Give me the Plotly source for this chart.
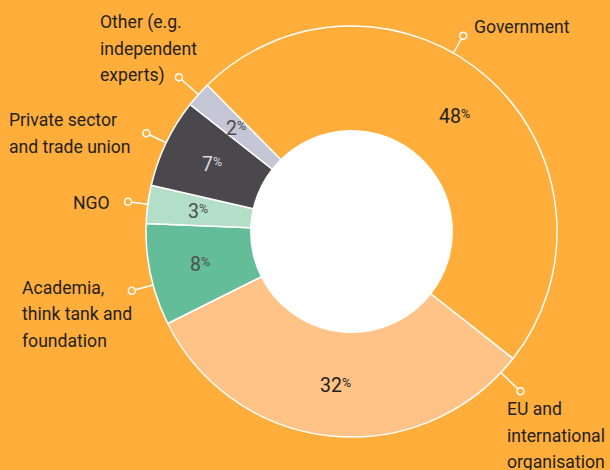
import math
import plotly.graph_objects as go

# ---- data ----
categories = ["Government", "EU and international organisation",
              "Academia, think tank and foundation", "NGO",
              "Private sector and trade union", "Other (e.g. independent experts)"]
values = [48, 32, 8, 3, 7, 2]
label_lines = [
    ["Government"],
    ["EU and", "international", "organisation"],
    ["Academia,", "think tank and", "foundation"],
    ["NGO"],
    ["Private sector", "and trade union"],
    ["Other (e.g.", "independent", "experts)"],
]

# ---- style ----
W, H = 610, 470
BG = "#FFAD3B"
colors = ["#FFAD3B", "#FFC387", "#63BD98", "#B3DEC8", "#4A484D", "#C4C6D6"]
pct_colors = ["#231F20", "#231F20", "#4D4D4D", "#4D4D4D", "#D9D9E0", "#4D4D4D"]
FONT = "Roboto"
cx, cy, R = 351.5, 231.5, 205.5
HOLE = 0.49
START = -44.6          # clockwise from 12 o'clock
lead = [20, 27, 22, 20, 22, 26]
anchor_frac = [0.43, 0.045, 0.40, 0.5, 0.5, 0.5]
# text placement relative to the leader end: (xanchor, dx, dy of first line)
text_place = [("left", 9, -9), ("left", -15, 18), ("left", -112, -3),
              ("right", -16, 1), ("left", -139, -13), ("left", -81, -55)]
LINE_H = 26.5

fig = go.Figure()
fig.add_trace(go.Pie(
    labels=categories, values=values, sort=False, direction="clockwise",
    rotation=START, hole=HOLE,
    domain=dict(x=[(cx - R) / W, (cx + R) / W], y=[1 - (cy + R) / H, 1 - (cy - R) / H]),
    marker=dict(colors=colors, line=dict(color="white", width=1.5)),
    textinfo="none", textposition="none",
    hoverinfo="label+percent", showlegend=False,
))

# leader lines, circles, percent labels
total = sum(values)
r_in = R * HOLE
r_mid = (R + r_in) / 2 + 1.5
acc = 0
lx, ly, mx, my = [], [], [], []
annotations = []
for i, v in enumerate(values):
    a0 = START + acc / total * 360
    a1 = START + (acc + v) / total * 360
    acc += v
    mid = math.radians((a0 + a1) / 2)
    annotations.append(dict(
        x=cx + r_mid * math.sin(mid), y=cy - r_mid * math.cos(mid),
        xref="x", yref="y", showarrow=False, xanchor="center", yanchor="middle",
        text=f"{v}<span style=\"font-size:12.5px;baseline-shift:5px\">%</span>",
        font=dict(family=FONT, size=19.5, color=pct_colors[i]),
    ))
    ang = math.radians(a0 + (a1 - a0) * anchor_frac[i])
    x0, y0 = cx + R * math.sin(ang), cy - R * math.cos(ang)
    x1, y1 = cx + (R + lead[i]) * math.sin(ang), cy - (R + lead[i]) * math.cos(ang)
    lx += [x0, x1, None]
    ly += [y0, y1, None]
    mx.append(x1)
    my.append(y1)
    xa, dx, dy = text_place[i]
    for j, line in enumerate(label_lines[i]):
        annotations.append(dict(
            x=x1 + dx, y=y1 + dy + j * LINE_H, xref="x", yref="y",
            text=line, showarrow=False, xanchor=xa, yanchor="middle",
            font=dict(family=FONT, size=17.6, color="#231F20"),
        ))

fig.add_trace(go.Scatter(x=lx, y=ly, mode="lines",
                         line=dict(color="white", width=1.5),
                         hoverinfo="skip", showlegend=False))
fig.add_trace(go.Scatter(x=mx, y=my, mode="markers",
                         marker=dict(symbol="circle", size=7, color=BG,
                                     line=dict(color="white", width=1.5)),
                         hoverinfo="skip", showlegend=False))

fig.update_layout(
    width=W, height=H, autosize=False,
    margin=dict(l=0, r=0, t=0, b=0),
    paper_bgcolor=BG, plot_bgcolor="rgba(0,0,0,0)",
    xaxis=dict(range=[0, W], visible=False, fixedrange=True),
    yaxis=dict(range=[H, 0], visible=False, fixedrange=True),
    annotations=annotations,
    shapes=[dict(type="circle", xref="x", yref="y",
                 x0=cx - r_in, x1=cx + r_in, y0=cy - r_in, y1=cy + r_in,
                 fillcolor="white", line=dict(color="white", width=1),
                 layer="below")],
)

fig.write_html("out.html", config={"displayModeBar": False},
               post_script="document.body.style.margin='0';document.body.style.overflow='hidden';")
